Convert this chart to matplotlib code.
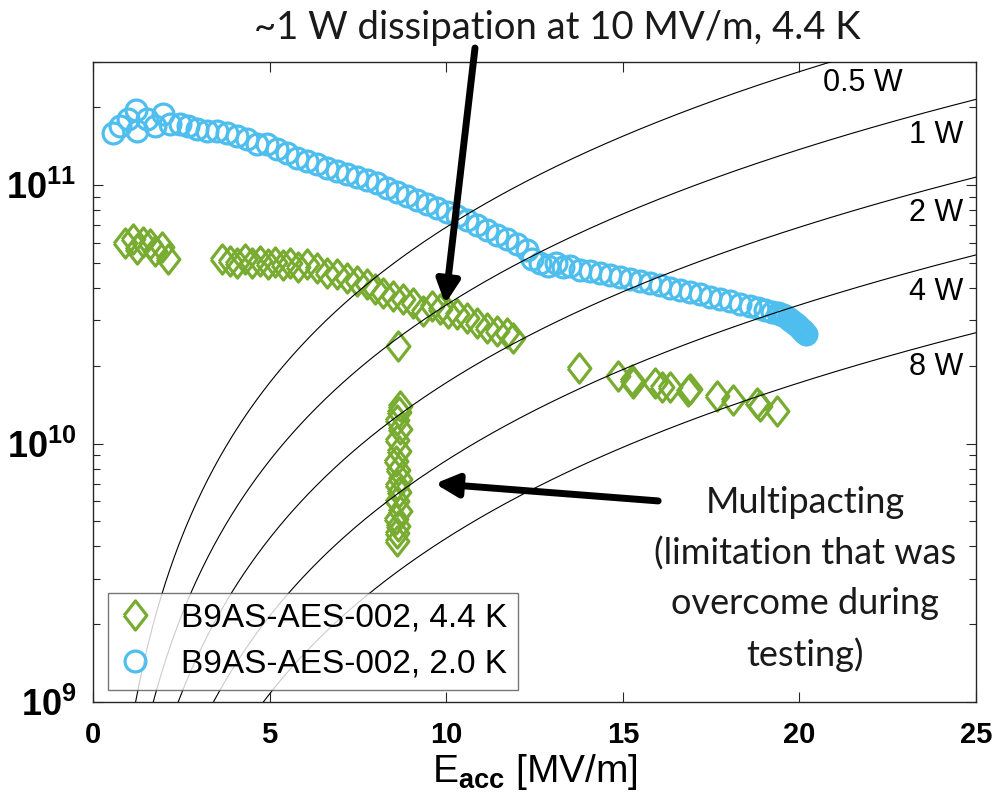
import numpy as np
import matplotlib
matplotlib.use("Agg")
import matplotlib.pyplot as plt

plt.rcParams['font.family'] = ['Liberation Sans', 'DejaVu Sans']
plt.rcParams['mathtext.fontset'] = 'custom'
plt.rcParams['mathtext.rm'] = 'Liberation Sans'
plt.rcParams['mathtext.bf'] = 'Liberation Sans:bold'
plt.rcParams['mathtext.it'] = 'Liberation Sans:italic'

# B9AS-AES-002 at 4.4 K: Eacc [MV/m] and Q0
e_44 = [0.91, 1.13, 1.25, 1.42, 1.61, 1.76, 1.95, 2.12,
        3.65, 3.88, 4.08, 4.30, 4.50, 4.73, 4.95, 5.15, 5.38, 5.58, 5.80,
        6.06, 6.34, 6.63, 6.91, 7.19, 7.47, 7.76, 7.98, 8.21, 8.49, 8.78,
        9.06, 9.34, 9.60, 9.82, 10.05, 10.31, 10.59, 10.87, 11.16, 11.44,
        11.72, 11.89,
        8.64,
        8.70, 8.66, 8.62, 8.68, 8.60, 8.66, 8.58, 8.64, 8.70, 8.60, 8.66,
        8.62, 8.68, 8.58, 8.64, 8.62, 8.60,
        13.76, 14.86, 15.26, 15.30, 15.91, 16.11, 16.34, 16.85, 16.91,
        17.67, 18.12, 18.80, 18.88, 19.37]
q_44 = [5.97e10, 6.20e10, 5.66e10, 6.03e10, 5.92e10, 5.56e10, 5.77e10, 5.18e10,
        5.18e10, 5.09e10, 5.00e10, 5.18e10, 5.00e10, 5.09e10, 4.96e10, 5.05e10,
        4.91e10, 5.00e10, 4.82e10,
        4.96e10, 4.79e10, 4.57e10, 4.53e10, 4.37e10, 4.26e10, 4.15e10, 3.97e10,
        3.83e10, 3.73e10, 3.63e10,
        3.50e10, 3.26e10, 3.41e10, 3.32e10, 3.20e10, 3.18e10, 3.06e10, 2.93e10,
        2.80e10, 2.73e10, 2.68e10, 2.57e10,
        2.39e10,
        1.40e10, 1.32e10, 1.23e10, 1.14e10, 1.03e10, 9.4e9, 8.6e9, 7.9e9,
        7.3e9, 6.9e9, 6.5e9, 6.0e9, 5.5e9, 5.1e9, 4.8e9, 4.5e9, 4.2e9,
        1.96e10, 1.83e10, 1.77e10, 1.72e10, 1.71e10, 1.65e10, 1.65e10, 1.60e10,
        1.62e10, 1.53e10, 1.47e10, 1.43e10, 1.40e10, 1.34e10]

# B9AS-AES-002 at 2.0 K
e_20 = [0.57, 0.76, 0.99, 1.22, 1.25, 1.53, 1.76, 1.98, 2.18, 2.46, 2.69,
        2.94, 3.23, 3.51, 3.79, 4.08, 4.36, 4.64, 4.93, 5.21, 5.49, 5.78,
        6.06, 6.34, 6.63, 6.91, 7.19, 7.47, 7.76, 8.04, 8.32, 8.61, 8.89,
        9.17, 9.46, 9.74, 10.02, 10.31, 10.59, 10.87, 11.16, 11.44, 11.72,
        12.00, 12.29, 12.43, 12.66, 12.88, 13.11, 13.31, 13.51, 13.79, 14.07,
        14.35, 14.64, 14.92, 15.20, 15.49, 15.77, 16.05, 16.34, 16.62, 16.90,
        17.19, 17.47, 17.75, 18.04, 18.32, 18.60, 18.83, 19.03, 19.22, 19.39,
        19.45, 19.54, 19.60, 19.68, 19.74, 19.79, 19.85, 19.90, 19.96, 20.02,
        20.06, 20.10, 20.14, 20.19]
q_20 = [1.59e11, 1.69e11, 1.80e11, 1.96e11, 1.62e11, 1.80e11, 1.69e11, 1.88e11,
        1.73e11, 1.73e11, 1.69e11, 1.65e11, 1.62e11, 1.62e11, 1.59e11, 1.55e11,
        1.51e11, 1.45e11, 1.44e11, 1.38e11, 1.33e11, 1.27e11, 1.24e11, 1.21e11,
        1.17e11, 1.14e11, 1.11e11, 1.08e11, 1.045e11, 1.02e11, 9.8e10, 9.4e10,
        9.07e10, 8.75e10, 8.45e10, 8.15e10, 7.87e10, 7.59e10, 7.33e10, 7.01e10,
        6.70e10, 6.41e10, 6.19e10, 5.92e10, 5.61e10, 5.18e10, 5.00e10, 4.87e10,
        5.00e10, 4.82e10, 4.87e10, 4.70e10, 4.66e10, 4.57e10, 4.49e10, 4.42e10,
        4.34e10, 4.26e10, 4.19e10, 4.11e10, 4.00e10, 3.93e10, 3.86e10, 3.79e10,
        3.70e10, 3.63e10, 3.57e10, 3.47e10, 3.41e10, 3.35e10, 3.29e10, 3.23e10,
        3.20e10, 3.17e10, 3.15e10, 3.11e10, 3.06e10, 3.02e10, 2.98e10, 2.94e10,
        2.91e10, 2.85e10, 2.80e10, 2.76e10, 2.73e10, 2.70e10, 2.66e10]

# constant dissipation lines: Q0 = G_CONST * Eacc^2 / P
powers = [0.5, 1, 2, 4, 8]
power_labels = ['0.5 W', '1 W', '2 W', '4 W', '8 W']
G_CONST = 3.44e8

green = '#77AC30'
blue = '#4DBEEE'
diamond = [(-0.78, 0), (0, 1), (0.78, 0), (0, -1), (-0.78, 0)]

fig = plt.figure(figsize=(9.98, 8.09), dpi=100)
ax = fig.add_axes([0.0932, 0.1323, 0.8848, 0.7911])

e_grid = np.linspace(0.05, 25, 600)
for p in powers:
    ax.plot(e_grid, G_CONST * e_grid**2 / p, color='black', lw=0.8, zorder=3)

ax.plot(e_44, q_44, ls='none', marker=diamond, ms=21, mfc='none', mec=green,
        mew=2.3, label='B9AS-AES-002, 4.4 K', zorder=2)
ax.plot(e_20, q_20, ls='none', marker='o', ms=15, mfc='none', mec=blue,
        mew=2.3, label='B9AS-AES-002, 2.0 K', zorder=2)

# power labels (placed by hand)
label_x = [22.93, 24.63, 24.63, 24.63, 24.63]
label_y = [2.48e11, 1.57e11, 7.8e10, 3.86e10, 1.98e10]
for t, x, y in zip(power_labels, label_x, label_y):
    ax.text(x, y, t, ha='right', va='center', fontsize=22)

ax.set_yscale('log')
ax.set_xlim(0, 25)
ax.set_ylim(1e9, 3e11)
ax.set_xticks([0, 5, 10, 15, 20, 25])
ax.set_xticklabels(['0', '5', '10', '15', '20', '25'], fontweight='bold')
ax.set_yticks([1e9, 1e10, 1e11])
ax.set_yticklabels([r'$\mathbf{10^{9}}$', r'$\mathbf{10^{10}}$', r'$\mathbf{10^{11}}$'],
                   fontsize=26)
ax.tick_params(axis='both', which='both', direction='in', top=True, right=True,
               color='#262626')
ax.tick_params(axis='x', labelsize=21)
ax.tick_params(axis='both', which='major', length=7, width=0.8)
ax.tick_params(axis='y', which='minor', length=5, width=0.8)
ax.tick_params(axis='x', which='major', pad=14)
ax.tick_params(axis='y', which='major', pad=12)
for s in ax.spines.values():
    s.set_color('#262626')
    s.set_linewidth(1.0)

ax.set_xlabel(r'E$_{\mathbf{acc}}$ [MV/m]', fontsize=28, labelpad=2)

leg = ax.legend(loc='lower left', bbox_to_anchor=(0.017, 0.019), fontsize=24,
                frameon=True, fancybox=False, edgecolor='#555555',
                handlelength=1.0, handletextpad=0.9, borderpad=0.3,
                labelspacing=0.45, borderaxespad=0)
leg.get_frame().set_linewidth(1.0)

callout = dict(arrowstyle='-|>', color='black', lw=5, mutation_scale=34,
               shrinkA=0, shrinkB=0)
ax.annotate('', xy=(9.97, 3.47e10), xycoords='data',
            xytext=(475 / 998, 1 - 48 / 809), textcoords='figure fraction',
            arrowprops=callout, annotation_clip=False)
fig.text(557 / 998, 1 - 28 / 809, '~1 W dissipation at 10 MV/m, 4.4 K',
         family=['Lato', 'DejaVu Sans'], fontsize=27.5,
         ha='center', va='center', color='#1a1a1a')

ax.annotate('', xy=(9.68, 7.0e9), xytext=(16.0, 6.0e9),
            arrowprops=callout)
fig.text(805 / 998, 1 - 579 / 809,
         'Multipacting\n(limitation that was\novercome during\ntesting)',
         family=['Lato', 'DejaVu Sans'], fontsize=26, color='#1a1a1a',
         ha='center', va='center', linespacing=1.62)

fig.savefig('out.png', dpi=100)
